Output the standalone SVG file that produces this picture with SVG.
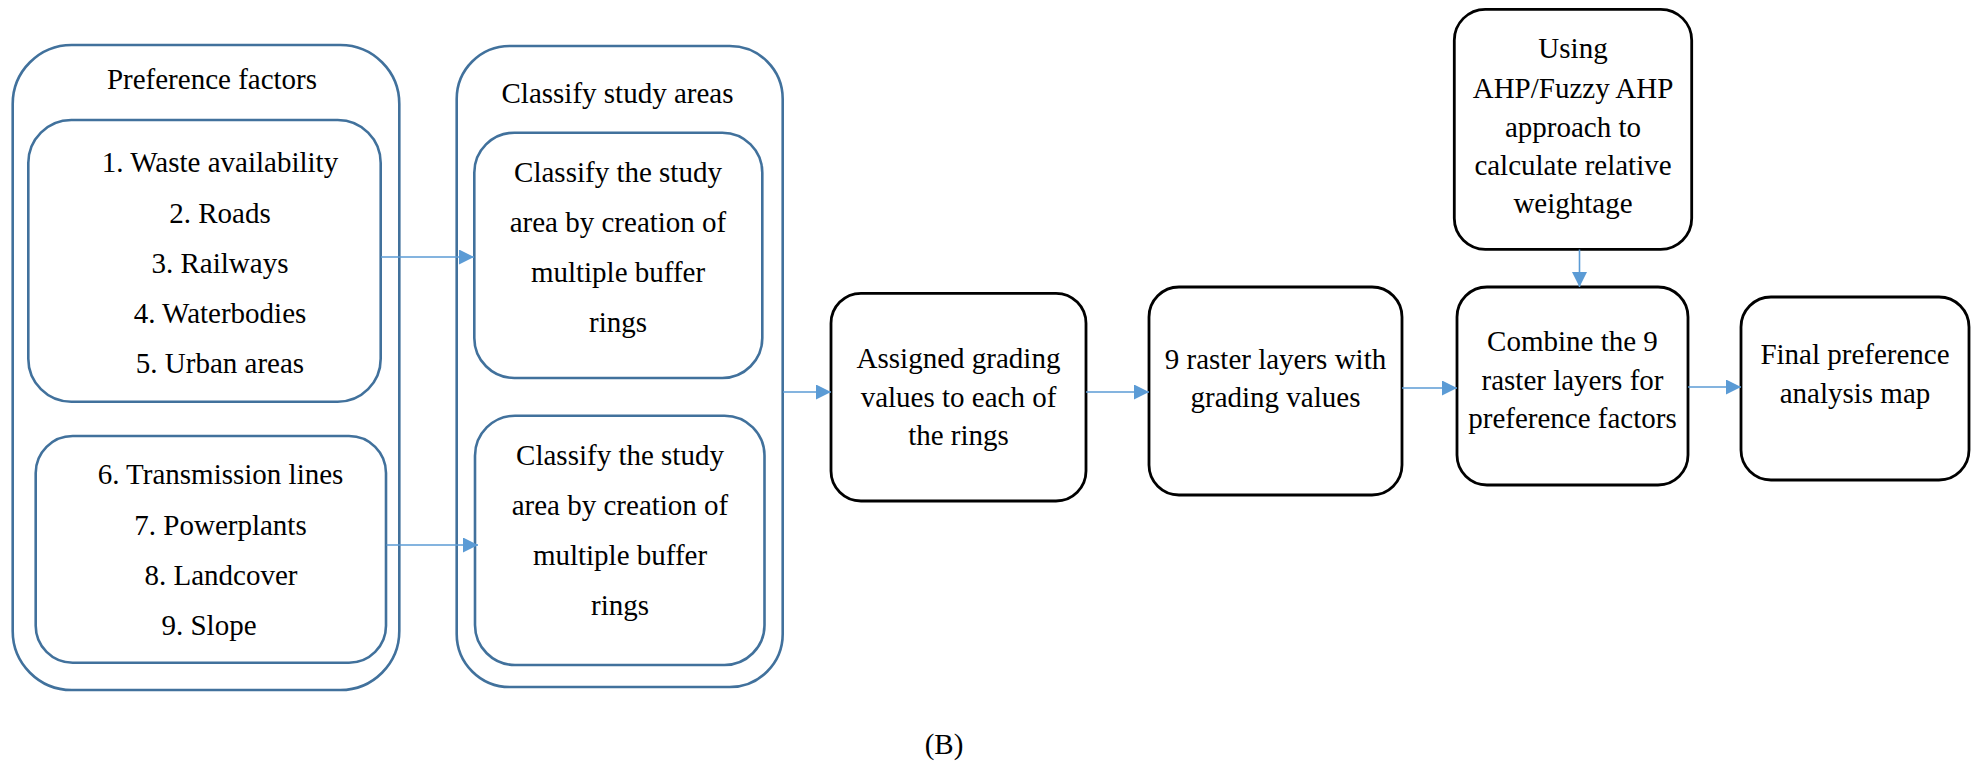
<svg xmlns="http://www.w3.org/2000/svg" width="1975" height="765" viewBox="0 0 1975 765" font-family="'Liberation Serif', 'DejaVu Serif', serif">
<defs>
<style>
.blue{fill:none;stroke:#41719C;stroke-width:2.6}
.blk{fill:#fff;stroke:#000;stroke-width:2.8}
.t{font-size:29px;fill:#000;text-anchor:middle}
.c{stroke:#5B9BD5;stroke-width:1.6;fill:none}
</style>
<marker id="ah" viewBox="0 0 10 10" refX="10" refY="5" markerWidth="15" markerHeight="15" markerUnits="userSpaceOnUse" orient="auto">
<path d="M0,0 L10,5 L0,10 Z" fill="#5B9BD5"/>
</marker>
</defs>
<rect width="1975" height="765" fill="#fff"/>

<g id="preference-factors">
<rect class="blue" x="12.7" y="45" width="386.6" height="645" rx="59" ry="59"/>
<text class="t" x="212" y="89" font-family="Liberation Serif">Preference factors</text>
</g>
<g id="factors-1-5" font-family="Liberation Serif">
<rect class="blue" x="28.3" y="120" width="352.4" height="281.7" rx="43" ry="43"/>
<text class="t" x="220" y="172">1. Waste availability</text>
<text class="t" x="220" y="223">2. Roads</text>
<text class="t" x="220" y="273">3. Railways</text>
<text class="t" x="220" y="323">4. Waterbodies</text>
<text class="t" x="220" y="373">5. Urban areas</text>
</g>
<g id="factors-6-9" font-family="Liberation Serif">
<rect class="blue" x="35.7" y="436" width="350.3" height="226.7" rx="37" ry="37"/>
<text class="t" x="220.5" y="484">6. Transmission lines</text>
<text class="t" x="220.5" y="535">7. Powerplants</text>
<text class="t" x="221" y="585">8. Landcover</text>
<text class="t" x="209" y="635">9. Slope</text>
</g>

<g id="classify-study-areas" font-family="Liberation Serif">
<rect class="blue" x="456.7" y="46" width="326" height="641" rx="53" ry="53"/>
<text class="t" x="617.5" y="103">Classify study areas</text>
</g>
<g id="classify-a" font-family="Liberation Serif">
<rect class="blue" x="474.3" y="132.7" width="288" height="245.3" rx="40" ry="40"/>
<text class="t" x="618" y="182">Classify the study</text>
<text class="t" x="618" y="232">area by creation of</text>
<text class="t" x="618" y="282">multiple buffer</text>
<text class="t" x="618" y="332">rings</text>
</g>
<g id="classify-b" font-family="Liberation Serif">
<rect class="blue" x="475" y="415.7" width="289.5" height="249.3" rx="40" ry="40"/>
<text class="t" x="620" y="465">Classify the study</text>
<text class="t" x="620" y="515">area by creation of</text>
<text class="t" x="620" y="565">multiple buffer</text>
<text class="t" x="620" y="615">rings</text>
</g>

<g id="assigned-grading" font-family="Liberation Serif">
<rect class="blk" x="831" y="293.3" width="255" height="207.7" rx="30" ry="30"/>
<text class="t" x="958.5" y="368">Assigned grading</text>
<text class="t" x="958.5" y="407">values to each of</text>
<text class="t" x="958.5" y="445">the rings</text>
</g>
<g id="raster-layers" font-family="Liberation Serif">
<rect class="blk" x="1149" y="287" width="253" height="208" rx="30" ry="30"/>
<text class="t" x="1275.5" y="369">9 raster layers with</text>
<text class="t" x="1275.5" y="407">grading values</text>
</g>
<g id="ahp" font-family="Liberation Serif">
<rect class="blk" x="1454.3" y="9.3" width="237.4" height="240" rx="31" ry="31"/>
<text class="t" x="1573" y="58">Using</text>
<text class="t" x="1573" y="98">AHP/Fuzzy AHP</text>
<text class="t" x="1573" y="137">approach to</text>
<text class="t" x="1573" y="175">calculate relative</text>
<text class="t" x="1573" y="213">weightage</text>
</g>
<g id="combine" font-family="Liberation Serif">
<rect class="blk" x="1457" y="287" width="231" height="198" rx="30" ry="30"/>
<text class="t" x="1572.5" y="351">Combine the 9</text>
<text class="t" x="1572.5" y="390">raster layers for</text>
<text class="t" x="1572.5" y="428">preference factors</text>
</g>
<g id="final-map" font-family="Liberation Serif">
<rect class="blk" x="1741" y="297" width="228" height="183" rx="30" ry="30"/>
<text class="t" x="1855" y="364">Final preference</text>
<text class="t" x="1855" y="403">analysis map</text>
</g>

<g id="connectors">
<line class="c" x1="381" y1="257" x2="474" y2="257" marker-end="url(#ah)"/>
<line class="c" x1="386.5" y1="545" x2="478" y2="545" marker-end="url(#ah)"/>
<line class="c" x1="783" y1="392" x2="831" y2="392" marker-end="url(#ah)"/>
<line class="c" x1="1086" y1="392" x2="1149" y2="392" marker-end="url(#ah)"/>
<line class="c" x1="1402" y1="388" x2="1457" y2="388" marker-end="url(#ah)"/>
<line class="c" x1="1688" y1="387" x2="1741" y2="387" marker-end="url(#ah)"/>
<line class="c" x1="1579.5" y1="249.5" x2="1579.5" y2="287" marker-end="url(#ah)"/>
</g>

<text class="t" x="944" y="754" font-family="Liberation Serif">(B)</text>
</svg>
